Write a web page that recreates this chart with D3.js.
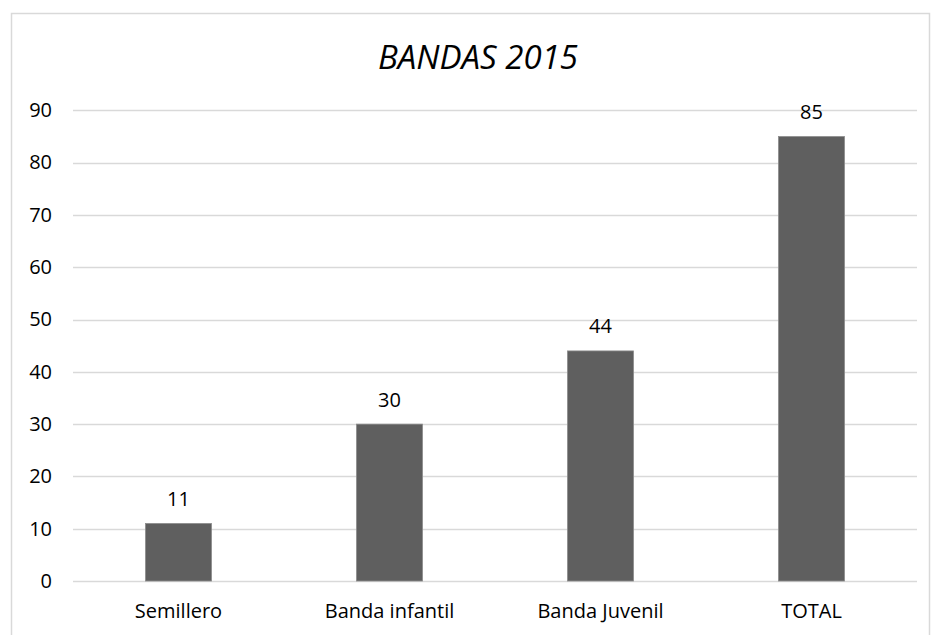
<!DOCTYPE html>
<html><head><meta charset="utf-8">
<script src="https://cdn.jsdelivr.net/npm/d3@7"></script>
<style>body{margin:0;background:#fff}</style>
</head><body>
<script>
const categories = ["Semillero", "Banda infantil", "Banda Juvenil", "TOTAL"];
const values = [11, 30, 44, 85];
const yTicks = [0, 10, 20, 30, 40, 50, 60, 70, 80, 90];
const title = "BANDAS 2015";

const W = 932, H = 635;
const svg = d3.select("body").append("svg").attr("width", W).attr("height", H);
const font = "'Open Sans', sans-serif";

svg.append("rect").attr("x", 11.5).attr("y", 13.5).attr("width", 918).attr("height", 640)
  .attr("fill", "#fff").attr("stroke", "#d9d9d9").attr("stroke-width", 1.5);

const x0 = 73, x1 = 917, yTop = 110.4, yBot = 581;
const x = d3.scaleBand().domain(categories).range([x0, x1]).paddingInner(0.687).paddingOuter(0.3435);
const y = d3.scaleLinear().domain([0, 90]).range([yBot, yTop]);

svg.append("g").selectAll("line").data(yTicks).join("line")
  .attr("x1", x0).attr("x2", x1)
  .attr("y1", d => Math.round(y(d)) + 0.5).attr("y2", d => Math.round(y(d)) + 0.5)
  .attr("stroke", "#d9d9d9").attr("stroke-width", 1.3);

svg.append("g").selectAll("text").data(yTicks).join("text")
  .attr("x", 52).attr("y", d => y(d) + 6.8)
  .attr("text-anchor", "end").attr("font-family", font).attr("font-size", 20).attr("fill", "#000")
  .text(d => d);

svg.append("g").selectAll("rect").data(values).join("rect")
  .attr("x", (d, i) => x(categories[i]))
  .attr("width", x.bandwidth())
  .attr("y", d => y(d))
  .attr("height", d => y(0) - y(d))
  .attr("fill", "#5f5f5f").attr("stroke", "#8c8c8c").attr("stroke-width", 0.8);

svg.append("g").selectAll("text").data(values).join("text")
  .attr("x", (d, i) => x(categories[i]) + x.bandwidth() / 2)
  .attr("y", d => y(d) - 17.5)
  .attr("text-anchor", "middle").attr("font-family", font).attr("font-size", 20).attr("fill", "#000")
  .text(d => d);

svg.append("g").selectAll("text").data(categories).join("text")
  .attr("x", d => x(d) + x.bandwidth() / 2)
  .attr("y", 618)
  .attr("text-anchor", "middle").attr("font-family", font).attr("font-size", 20).attr("fill", "#000")
  .text(d => d);

svg.append("text").attr("x", 478).attr("y", 69)
  .attr("text-anchor", "middle").attr("font-family", font).attr("font-size", 33)
  .attr("font-style", "italic").attr("fill", "#000").text(title);
</script>
</body></html>
